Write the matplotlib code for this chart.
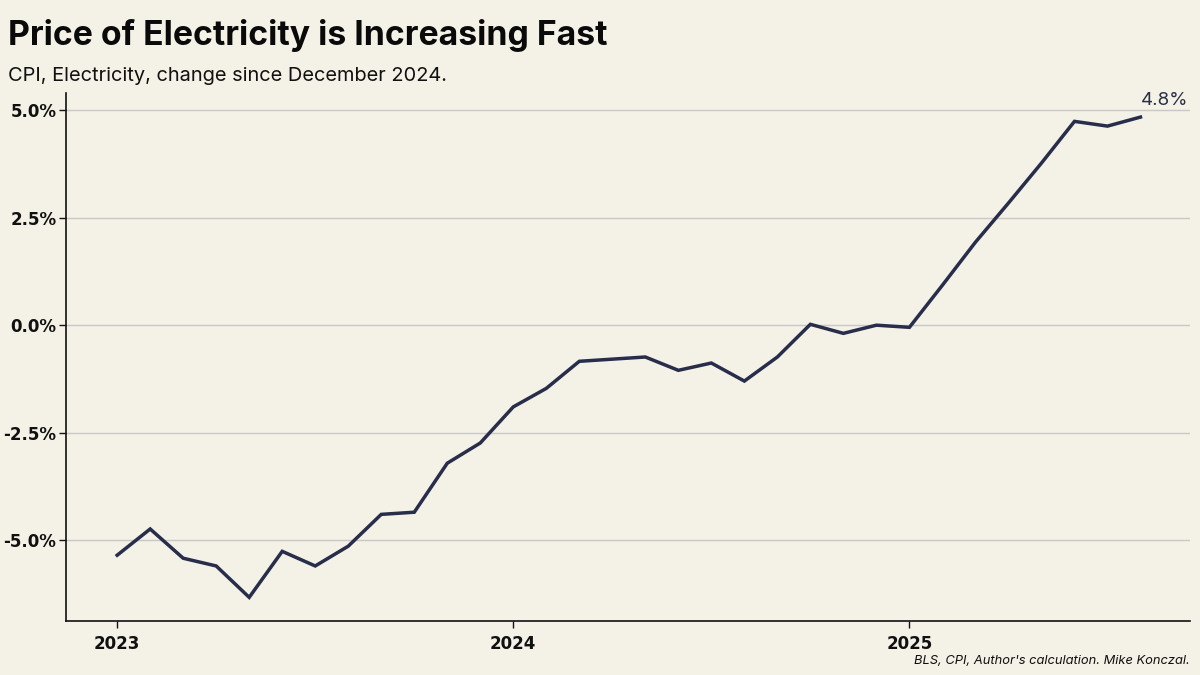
import matplotlib.pyplot as plt
import pandas as pd

bg = "#f4f1e6"
line_col = "#272d4a"

months = pd.date_range("2023-01-01", "2025-08-01", freq="MS")
change = [-5.35, -4.74, -5.42, -5.60, -6.33, -5.26, -5.60, -5.14, -4.40, -4.35, -3.21, -2.74,
          -1.90, -1.47, -0.84, -0.79, -0.74, -1.05, -0.88, -1.30, -0.74, 0.02, -0.19, 0.00,
          -0.05, 0.93, 1.93, 2.84, 3.77, 4.74, 4.63, 4.84]
y_ticks = [-5.0, -2.5, 0.0, 2.5, 5.0]
x_tick_labels = ["2023", "2024", "2025"]

fig = plt.figure(figsize=(12, 6.75), dpi=100, facecolor=bg)
ax = fig.add_axes([66 / 1200, 1 - 621 / 675, (1190 - 66) / 1200, (621 - 93) / 675])
ax.set_facecolor(bg)

x = list(range(len(months)))
ax.plot(x, change, color=line_col, lw=2.5, solid_joinstyle="miter", zorder=3)

ax.set_xlim(-1.55, 32.5)
ax.set_ylim(-6.88, 5.4)

# ticks: January of each year
year_pos = [i for i, m in enumerate(months) if m.month == 1]
ax.set_xticks(year_pos)
ax.set_xticklabels(x_tick_labels)
ax.set_yticks(y_ticks)
ax.set_yticklabels([f"{v:.1f}%" for v in y_ticks])

for lab in ax.get_xticklabels() + ax.get_yticklabels():
    lab.set_fontfamily("DejaVu Sans")
    lab.set_fontweight("bold")
    lab.set_fontsize(12)
    lab.set_color("#111111")

ax.tick_params(axis="both", length=5, width=1, color="#111111")
ax.tick_params(axis="y", pad=2)
ax.tick_params(axis="x", pad=5)
ax.yaxis.grid(True, color="#c8c8c8", lw=1)
ax.set_axisbelow(True)

for s in ["top", "right"]:
    ax.spines[s].set_visible(False)
for s in ["left", "bottom"]:
    ax.spines[s].set_color("#111111")
    ax.spines[s].set_linewidth(1.2)

# last value label
ax.annotate(f"{change[-1]:.1f}%", (x[-1], change[-1]), xytext=(0, 6), textcoords="offset points",
            ha="left", va="bottom", fontsize=13.5, color="#2b2f45", family="Inter")

fig.text(8 / 1200, 1 - 35 / 675, "Price of Electricity is Increasing Fast", fontsize=24.3,
         fontweight="bold", family="Inter", va="center", color="#0a0a0a")
fig.text(8 / 1200, 1 - 76 / 675, "CPI, Electricity, change since December 2024.", fontsize=14.4,
         family="Inter", va="center", color="#111111")
fig.text(1190 / 1200, 1 - 661 / 675, "BLS, CPI, Author's calculation. Mike Konczal.", fontsize=9.3,
         family="Inter", style="italic", ha="right", va="center", color="#111111")

fig.savefig("out.png", dpi=100, facecolor=bg)
